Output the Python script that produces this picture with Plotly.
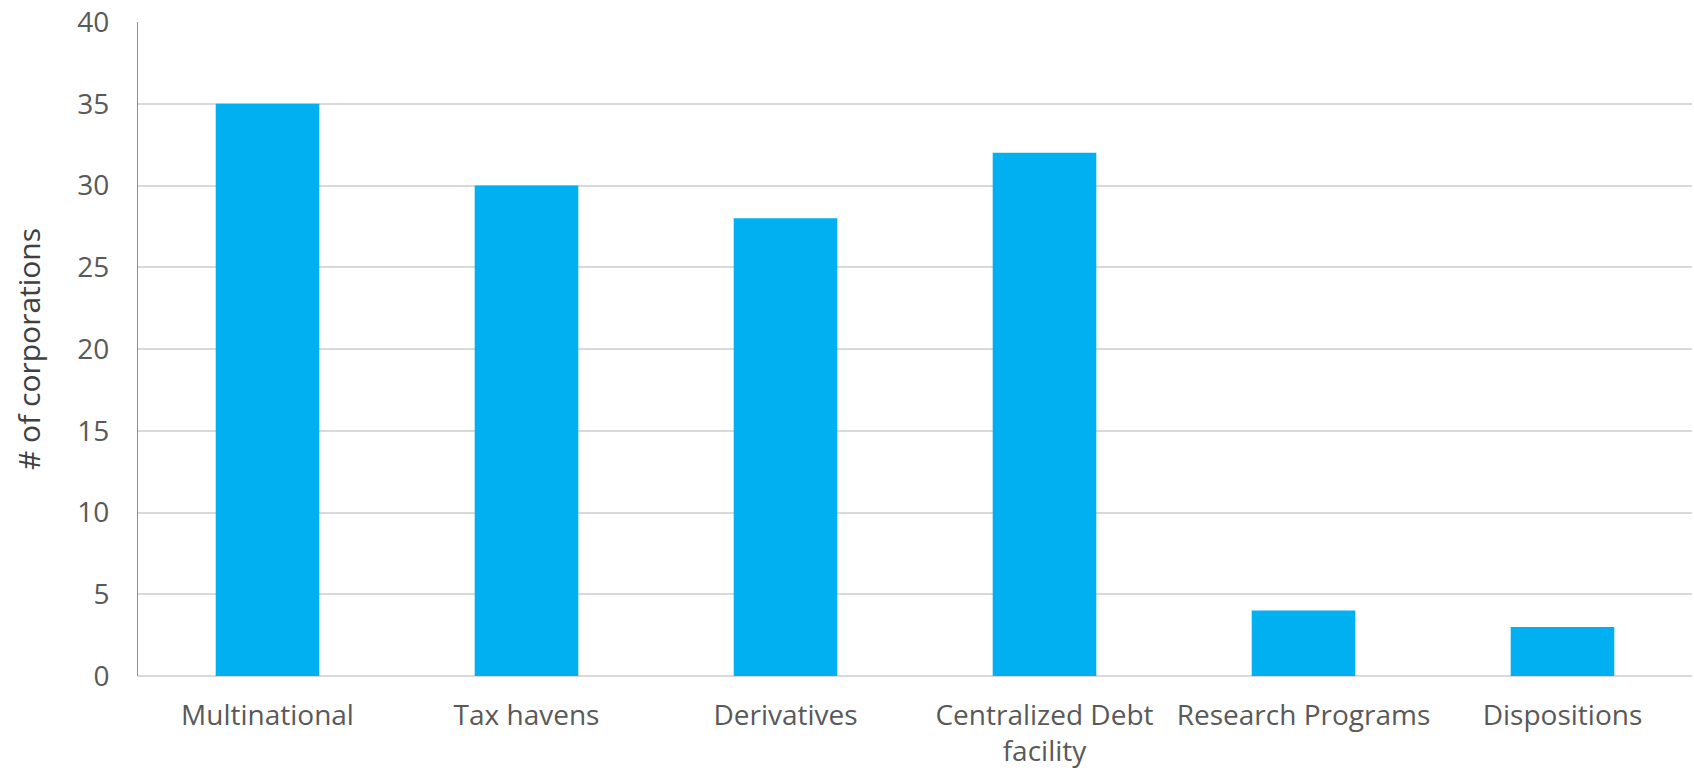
import plotly.graph_objects as go

categories = ["Multinational", "Tax havens", "Derivatives", "Centralized Debt<br>facility",
              "Research Programs", "Dispositions"]
values = [35, 30, 28, 32, 4, 3]
y_ticks = [0, 5, 10, 15, 20, 25, 30, 35, 40]

FONT = "Open Sans"
GRAY = "#595959"

fig = go.Figure(go.Bar(x=categories, y=values, marker=dict(color="#00B0F0", line=dict(width=0))))

fig.update_layout(
    width=1694, height=772,
    margin=dict(l=138, r=2, t=20, b=96),
    paper_bgcolor="white", plot_bgcolor="white",
    bargap=0.6,
    showlegend=False,
    font=dict(family=FONT, color=GRAY, size=28),
)
fig.update_xaxes(
    showgrid=False, showline=False, zeroline=False,
    ticks="", tickfont=dict(family=FONT, size=28, color=GRAY),
    ticklabelstandoff=20,
)
fig.update_yaxes(
    range=[0, 40], tickvals=y_ticks,
    showgrid=True, gridcolor="#D9D9D9", gridwidth=2,
    zeroline=True, zerolinecolor="#D9D9D9", zerolinewidth=2,
    showline=True, linecolor="#5B9BD5", linewidth=1,
    ticks="", tickfont=dict(family=FONT, size=28, color=GRAY),
    ticklabelstandoff=22, ticklabeloverflow="allow",
    title=dict(text="# of corporations", font=dict(family=FONT, size=30, color="#404040"), standoff=27),
)

fig.write_html(
    "out.html",
    config={"displayModeBar": False},
    post_script="document.body.style.margin='0';document.body.style.overflow='hidden';",
)
